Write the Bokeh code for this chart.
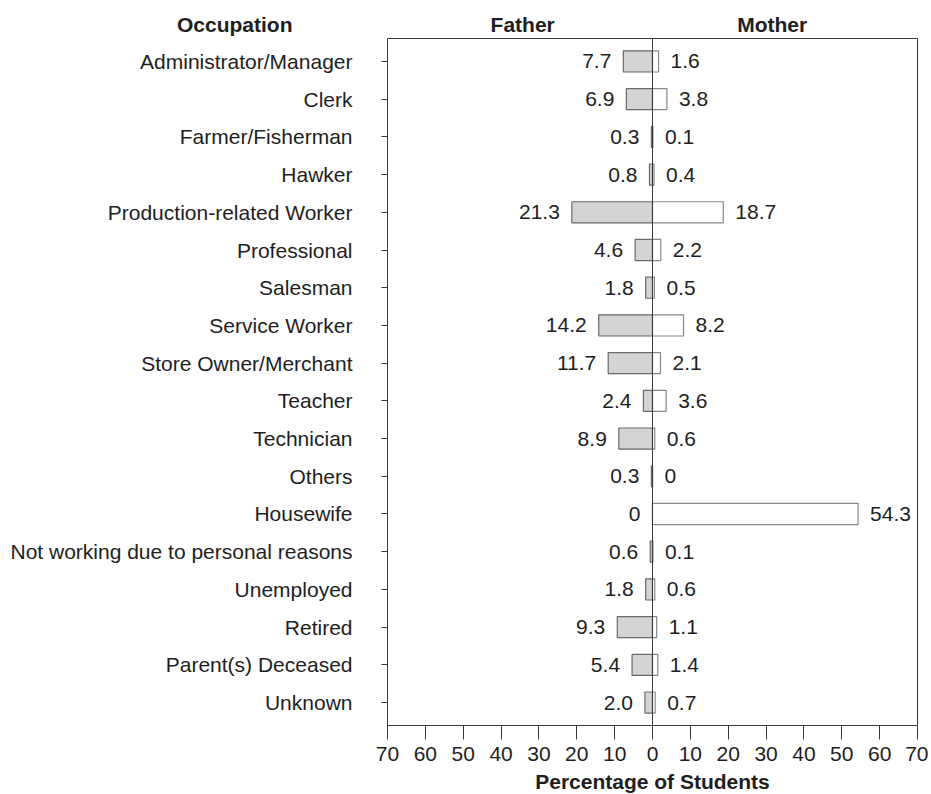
from bokeh.plotting import figure
from bokeh.layouts import column
from bokeh.models import FactorRange, Range1d, FixedTicker, Span, ColumnDataSource
from bokeh.embed import file_html
from bokeh.resources import INLINE
from bokeh.core.properties import value

occupations = [
    "Administrator/Manager", "Clerk", "Farmer/Fisherman", "Hawker",
    "Production-related Worker", "Professional", "Salesman", "Service Worker",
    "Store Owner/Merchant", "Teacher", "Technician", "Others", "Housewife",
    "Not working due to personal reasons", "Unemployed", "Retired",
    "Parent(s) Deceased", "Unknown",
]
father = [7.7, 6.9, 0.3, 0.8, 21.3, 4.6, 1.8, 14.2, 11.7, 2.4, 8.9, 0.3, 0.0, 0.6, 1.8, 9.3, 5.4, 2.0]
mother = [1.6, 3.8, 0.1, 0.4, 18.7, 2.2, 0.5, 8.2, 2.1, 3.6, 0.6, 0.0, 54.3, 0.1, 0.6, 1.1, 1.4, 0.7]
father_labels = ["7.7", "6.9", "0.3", "0.8", "21.3", "4.6", "1.8", "14.2", "11.7", "2.4", "8.9", "0.3", "0", "0.6", "1.8", "9.3", "5.4", "2.0"]
mother_labels = ["1.6", "3.8", "0.1", "0.4", "18.7", "2.2", "0.5", "8.2", "2.1", "3.6", "0.6", "0", "54.3", "0.1", "0.6", "1.1", "1.4", "0.7"]
tick_values = [-70, -60, -50, -40, -30, -20, -10, 0, 10, 20, 30, 40, 50, 60, 70]
tick_labels = ["70", "60", "50", "40", "30", "20", "10", "0", "10", "20", "30", "40", "50", "60", "70"]
x_title = "Percentage of Students"
row_header = "Occupation"
col_headers = ["Father", "Mother"]
col_header_pos = [-34.3, 31.6]

FONT = "Liberation Sans"
FS = "21px"
TXT = "#1e1e1e"
LINE = "#3a3a3a"

# layout constants (pixels)
LEFT = 387
FRAME_W = 530
RIGHT = 11
HEADER_H = 37
HEADER_Y = 13
FRAME_H = 687
X0, X1 = -70, 70

# ---- header strip (column titles) ----
hp = figure(
    frame_width=FRAME_W, frame_height=HEADER_H,
    x_range=Range1d(X0, X1), y_range=Range1d(0, HEADER_H),
    min_border_left=LEFT, min_border_right=RIGHT, min_border_top=0, min_border_bottom=0,
    x_axis_location=None, y_axis_location="left",
    output_backend="svg", toolbar_location=None,
)
hp.outline_line_color = None
hp.grid.visible = False
hp.background_fill_color = "white"
hp.border_fill_color = "white"
hy = hp.yaxis[0]
hy.ticker = FixedTicker(ticks=[HEADER_Y])
hy.major_label_overrides = {float(HEADER_Y): row_header}
hy.minor_tick_line_color = None
hy.major_tick_line_color = None
hy.major_tick_in = 0
hy.major_tick_out = 0
hy.axis_line_color = None
hy.major_label_standoff = 95
hy.major_label_text_font = FONT
hy.major_label_text_font_size = FS
hy.major_label_text_font_style = "bold"
hy.major_label_text_color = TXT

hsrc = ColumnDataSource(dict(x=col_header_pos, y=[HEADER_Y] * len(col_headers), t=col_headers))
hp.text(x="x", y="y", text="t", source=hsrc, text_align="center",
        text_baseline="middle", text_font=value(FONT), text_font_size=FS,
        text_font_style="bold", text_color=TXT)

# ---- main chart ----
src = ColumnDataSource(dict(
    occ=occupations,
    fneg=[-v for v in father],
    mom=mother,
    flab=father_labels,
    mlab=mother_labels,
))

p = figure(
    y_range=FactorRange(factors=occupations[::-1], range_padding=0.012),
    x_range=Range1d(X0, X1),
    frame_width=FRAME_W, frame_height=FRAME_H,
    min_border_left=LEFT, min_border_right=RIGHT, min_border_top=1, min_border_bottom=0,
    output_backend="svg", toolbar_location=None,
)
p.background_fill_color = "white"
p.border_fill_color = "white"
p.outline_line_color = LINE
p.outline_line_width = 1
p.grid.visible = False

# bars
p.hbar(y="occ", left="fneg", right=0, height=0.56, source=src,
       fill_color="#d4d4d4", line_color="#6a6a6a", line_width=1.2)
p.hbar(y="occ", left=0, right="mom", height=0.56, source=src,
       fill_color="white", line_color="#888888", line_width=1.2)

# zero line
p.add_layout(Span(location=0, dimension="height", line_color=LINE, line_width=1))

# value labels
p.text(x="fneg", y="occ", text="flab", source=src, x_offset=-12,
       text_align="right", text_baseline="middle",
       text_font=value(FONT), text_font_size=FS, text_color=TXT)
p.text(x="mom", y="occ", text="mlab", source=src, x_offset=12,
       text_align="left", text_baseline="middle",
       text_font=value(FONT), text_font_size=FS, text_color=TXT)

# x axis
xa = p.xaxis[0]
xa.ticker = FixedTicker(ticks=tick_values)
xa.major_label_overrides = {float(v): l for v, l in zip(tick_values, tick_labels)}
xa.minor_tick_line_color = None
xa.major_tick_in = 0
xa.major_tick_out = 14
xa.major_tick_line_color = LINE
xa.axis_line_color = LINE
xa.major_label_standoff = 7
xa.major_label_text_font = FONT
xa.major_label_text_font_size = FS
xa.major_label_text_color = TXT
xa.axis_label = x_title
xa.axis_label_text_font = FONT
xa.axis_label_text_font_size = FS
xa.axis_label_text_font_style = "bold"
xa.axis_label_text_color = TXT
xa.axis_label_standoff = 6

# y axis
ya = p.yaxis[0]
ya.major_tick_in = 0
ya.major_tick_out = 6
ya.major_tick_line_color = LINE
ya.axis_line_color = LINE
ya.major_label_standoff = 29
ya.major_label_text_font = FONT
ya.major_label_text_font_size = FS
ya.major_label_text_color = TXT

layout = column(hp, p, spacing=0)
open("out.html", "w").write(file_html(layout, INLINE))
